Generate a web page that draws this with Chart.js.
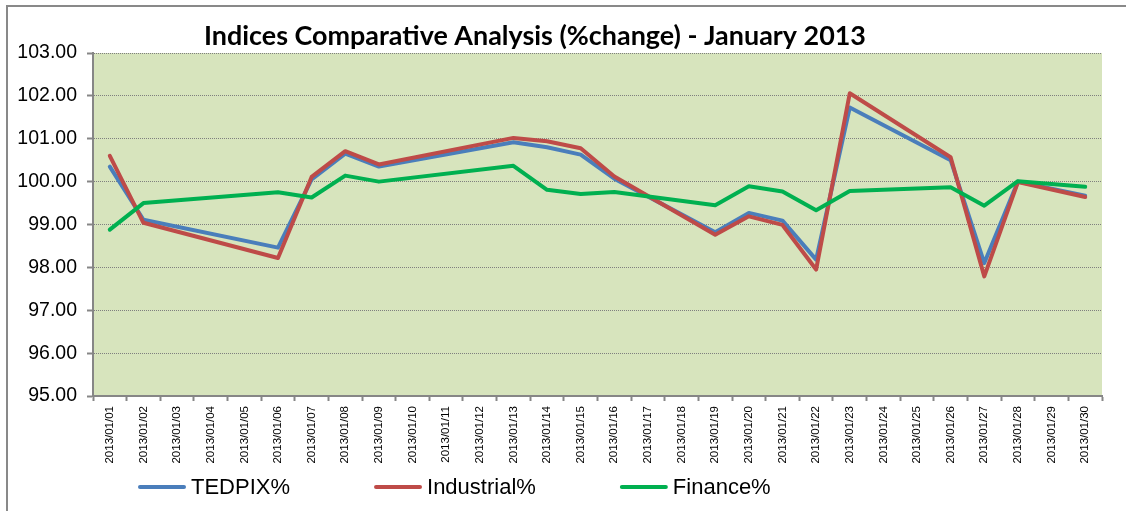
<!DOCTYPE html>
<html>
<head>
<meta charset="utf-8">
<title>Indices Comparative Analysis</title>
<script src="https://cdn.jsdelivr.net/npm/chart.js@4.4.1/dist/chart.umd.min.js"></script>
<style>
  html, body { margin: 0; padding: 0; background: #fff; }
  #wrap { width: 1126px; height: 511px; position: relative; }
</style>
</head>
<body>
<div id="wrap"><canvas id="indices-line"></canvas></div>
<script>
Chart.defaults.font.family = '"Liberation Sans", Arial, sans-serif';
Chart.defaults.color = '#000';

// category labels (trading days shown on the axis)
const dateLabels = [
  '2013/01/01', '2013/01/02', '2013/01/03', '2013/01/04', '2013/01/05',
  '2013/01/06', '2013/01/07', '2013/01/08', '2013/01/09', '2013/01/10',
  '2013/01/11', '2013/01/12', '2013/01/13', '2013/01/14', '2013/01/15',
  '2013/01/16', '2013/01/17', '2013/01/18', '2013/01/19', '2013/01/20',
  '2013/01/21', '2013/01/22', '2013/01/23', '2013/01/24', '2013/01/25',
  '2013/01/26', '2013/01/27', '2013/01/28', '2013/01/29', '2013/01/30'
];

// null = no trading that day, line is joined across it
const tedpixData = [
  100.35, 99.11, null, null, null,
  98.46, 100.05, 100.65, 100.35, null,
  null, null, 100.92, 100.80, 100.63,
  100.07, null, null, 98.82, 99.27,
  99.09, 98.18, 101.73, null, null,
  100.50, 98.10, 100.00, null, 99.67
];
const industrialData = [
  100.60, 99.04, null, null, null,
  98.22, 100.11, 100.71, 100.40, null,
  null, null, 101.02, 100.94, 100.78,
  100.12, null, null, 98.76, 99.19,
  98.99, 97.95, 102.06, null, null,
  100.57, 97.79, 99.99, null, 99.64
];
const financeData = [
  98.88, 99.50, null, null, null,
  99.75, 99.63, 100.14, 100.00, null,
  null, null, 100.37, 99.81, 99.71,
  99.76, null, null, 99.45, 99.89,
  99.77, 99.33, 99.78, null, null,
  99.87, 99.44, 100.01, null, 99.88
];

const seriesNames = ['TEDPIX%', 'Industrial%', 'Finance%'];
const seriesColors = ['#4a7ebb', '#be4b48', '#00b050'];

const yMin = 95;
const yMax = 103;
const yStep = 1;

const chartTitle = 'Indices Comparative Analysis (%change) - January 2013';
const plotColor = '#d7e4bd';

// background, outer frame, title and legend in the Excel layout
const excelFrame = {
  id: 'excelFrame',
  beforeDraw(chart) {
    const { ctx, chartArea: a } = chart;
    ctx.save();
    ctx.fillStyle = '#fff';
    ctx.fillRect(0, 0, chart.width, chart.height);
    ctx.fillStyle = plotColor;
    ctx.fillRect(a.left, a.top, a.right - a.left, a.bottom - a.top);
    ctx.strokeStyle = '#898989';
    ctx.lineWidth = 2;
    ctx.beginPath();
    ctx.moveTo(7, chart.height);
    ctx.lineTo(7, 6);
    ctx.lineTo(chart.width, 6);
    ctx.stroke();
    ctx.restore();
  },
  afterDraw(chart) {
    const ctx = chart.ctx;
    ctx.save();

    // title
    ctx.font = 'bold 24px Lato, "Open Sans", sans-serif';
    const w = ctx.measureText(chartTitle).width;
    const size = 24 * 662 / w;
    ctx.font = 'bold ' + size.toFixed(2) + 'px Lato, "Open Sans", sans-serif';
    ctx.fillStyle = '#000';
    ctx.textAlign = 'center';
    ctx.textBaseline = 'alphabetic';
    ctx.fillText(chartTitle, 535, 45);

    // legend
    ctx.font = '22px "Liberation Sans", Arial, sans-serif';
    ctx.textAlign = 'left';
    let x = 138;
    chart.data.datasets.forEach(ds => {
      ctx.strokeStyle = ds.borderColor;
      ctx.lineWidth = 4;
      ctx.lineCap = 'round';
      ctx.beginPath();
      ctx.moveTo(x + 2, 487);
      ctx.lineTo(x + 46, 487);
      ctx.stroke();
      ctx.fillStyle = '#000';
      ctx.fillText(ds.label, x + 53, 494);
      x += 53 + ctx.measureText(ds.label).width + 84;
    });
    ctx.restore();
  }
};

const seriesData = [tedpixData, industrialData, financeData];

const data = {
  labels: dateLabels,
  datasets: seriesNames.map((name, i) => ({
    label: name,
    data: seriesData[i],
    borderColor: seriesColors[i],
    backgroundColor: seriesColors[i],
    borderWidth: 4,
    borderCapStyle: 'round',
    borderJoinStyle: 'round',
    pointRadius: 0,
    tension: 0,
    spanGaps: true,
    order: 2 - i
  }))
};

const options = {
  responsive: true,
  maintainAspectRatio: false,
  animation: false,
  layout: {
    padding: { top: 53, right: 24, left: 0, bottom: 0 }
  },
  scales: {
    x: {
      offset: true,
      afterFit: s => { s.height = 115; },
      grid: {
        offset: true,
        drawOnChartArea: false,
        drawTicks: true,
        tickLength: 5,
        tickColor: '#868686',
        tickWidth: 2
      },
      border: { display: true, color: '#868686', width: 2 },
      ticks: {
        autoSkip: false,
        maxRotation: 90,
        minRotation: 90,
        padding: 5,
        font: { size: 11.5 }
      }
    },
    y: {
      min: yMin,
      max: yMax,
      afterFit: s => { s.width = 93; },
      grid: {
        color: '#7f7f7f',
        lineWidth: 1,
        tickLength: 6,
        tickColor: '#868686',
        tickWidth: 2,
        tickBorderDash: []
      },
      border: { display: true, color: '#868686', width: 2, dash: [1, 1] },
      ticks: {
        stepSize: yStep,
        padding: 10,
        font: { size: 19.5 },
        callback: v => Number(v).toFixed(2)
      }
    }
  },
  plugins: {
    legend: { display: false },
    title: { display: false },
    tooltip: { enabled: false }
  }
};

const ctxIndices = document.getElementById('indices-line');
const indicesChart = new Chart(ctxIndices, {
  type: 'line',
  data: data,
  options: options,
  plugins: [excelFrame]
});
</script>
</body>
</html>
